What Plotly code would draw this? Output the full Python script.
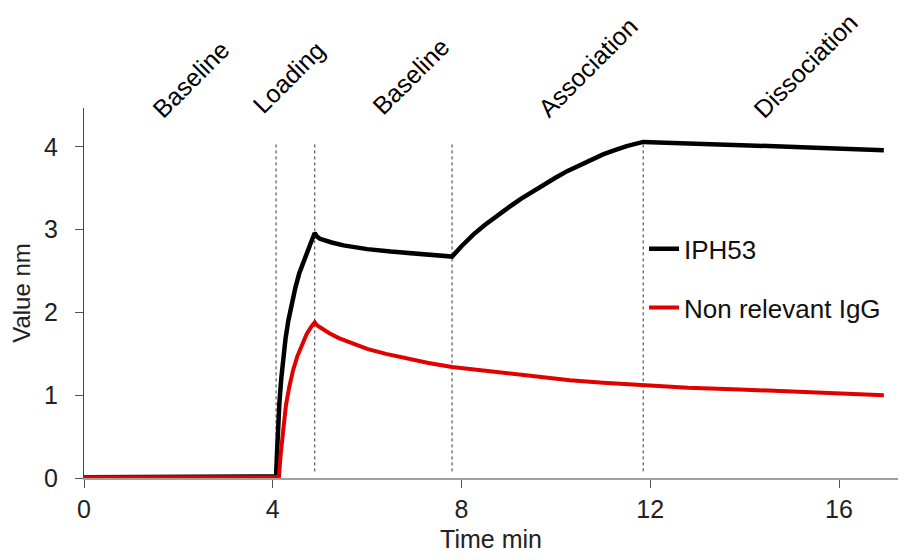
import plotly.graph_objects as go

# ---- data ----
iph53_t = [0, 0.5, 1, 1.5, 2, 2.5, 3, 3.5, 4.07,
           4.09, 4.11, 4.14, 4.18, 4.22, 4.27, 4.33, 4.40, 4.48, 4.56, 4.64, 4.72, 4.80, 4.89,
           4.93, 5.0, 5.1, 5.25, 5.5, 5.75, 6.0, 6.5, 7.0, 7.5, 7.8,
           8.0, 8.25, 8.5, 8.75, 9.0, 9.25, 9.5, 9.75, 10.0, 10.25, 10.5, 10.75, 11.0, 11.25, 11.5, 11.85,
           12.5, 13.5, 14.5, 15.5, 16.5, 16.95]
iph53_v = [0.01, 0.01, 0.01, 0.015, 0.015, 0.02, 0.02, 0.02, 0.02,
           0.3, 0.6, 0.9, 1.2, 1.45, 1.68, 1.9, 2.1, 2.3, 2.47, 2.6, 2.72, 2.83, 2.96,
           2.92, 2.89, 2.87, 2.845, 2.81, 2.785, 2.765, 2.735, 2.71, 2.69, 2.675,
           2.80, 2.94, 3.06, 3.17, 3.27, 3.37, 3.46, 3.55, 3.63, 3.71, 3.78, 3.85, 3.91, 3.96, 4.01, 4.06,
           4.05, 4.03, 4.01, 3.99, 3.97, 3.96]

igg_t = [0, 0.5, 1, 1.5, 2, 2.5, 3, 3.5, 4.13,
         4.17, 4.22, 4.28, 4.35, 4.43, 4.52, 4.62, 4.72, 4.82, 4.89,
         4.95, 5.05, 5.2, 5.4, 5.7, 6.0, 6.4, 6.8, 7.3, 7.8, 8.4, 9.0, 9.6, 10.3, 11.0, 11.85,
         12.8, 13.9, 14.6, 15.3, 16.1, 16.95]
igg_v = [0.01, 0.01, 0.01, 0.01, 0.01, 0.01, 0.01, 0.01, 0.01,
         0.3, 0.6, 0.88, 1.1, 1.3, 1.47, 1.62, 1.74, 1.83, 1.88,
         1.84, 1.80, 1.75, 1.69, 1.62, 1.56, 1.5, 1.45, 1.39, 1.34, 1.3, 1.26, 1.22, 1.18, 1.15, 1.12,
         1.09, 1.07, 1.055, 1.04, 1.02, 1.0]

phase_bounds = [4.07, 4.89, 7.8, 11.85]
phase_labels = ["Baseline", "Loading", "Baseline", "Association", "Dissociation"]
phase_label_x = [2.27, 4.34, 6.93, 10.68, 15.28]
phase_label_y = [1.078, 1.084, 1.086, 1.110, 1.114]

x_ticks = [0, 4, 8, 12, 16]
y_ticks = [0, 1, 2, 3, 4]

FONT = "Liberation Sans, Arial, Helvetica, sans-serif"

fig = go.Figure()
fig.add_trace(go.Scatter(x=iph53_t, y=iph53_v, mode="lines", name="IPH53",
                         line=dict(color="black", width=4.5), legendgroup="a"))
fig.add_trace(go.Scatter(x=igg_t, y=igg_v, mode="lines", name="Non relevant IgG",
                         line=dict(color="#e00000", width=4), legendgroup="b"))

for b in phase_bounds:
    fig.add_shape(type="line", xref="x", yref="y", x0=b, x1=b, y0=0.08, y1=4.05,
                  line=dict(color="#333333", width=1, dash="dot"), layer="below")

for lab, lx, ly in zip(phase_labels, phase_label_x, phase_label_y):
    fig.add_annotation(text=lab, x=lx, y=ly, xref="x", yref="paper", textangle=-45,
                       showarrow=False, xanchor="center", yanchor="middle",
                       font=dict(size=25, color="black", family=FONT))

fig.update_layout(
    width=914, height=560,
    margin=dict(l=76, r=24, t=100, b=90),
    paper_bgcolor="white", plot_bgcolor="white",
    font=dict(family=FONT, size=25, color="#222222"),
    showlegend=True,
    legend=dict(x=0.688, y=0.683, xanchor="left", yanchor="top",
                bgcolor="rgba(0,0,0,0)", tracegroupgap=22,
                font=dict(size=26, color="#111111", family=FONT),
                itemwidth=30),
    xaxis=dict(range=[0, 17.25], tickvals=x_ticks, showgrid=False, zeroline=False,
               automargin=False,
               showline=True, linecolor="#a0a0a0", linewidth=2,
               ticks="outside", ticklen=8, tickcolor="#555555", tickwidth=1,
               ticklabelstandoff=0,
               title=dict(text="Time min", standoff=8, font=dict(size=25)),
               tickfont=dict(size=25)),
    yaxis=dict(range=[0, 4.47], tickvals=y_ticks, showgrid=False, zeroline=False,
               automargin=False,
               showline=True, linecolor="#444444", linewidth=1,
               ticks="outside", ticklen=8, tickcolor="#555555", tickwidth=1,
               ticklabelstandoff=12,
               title=dict(text="Value nm", standoff=8, font=dict(size=24)),
               tickfont=dict(size=25)),
)

fig.write_html("out.html")
